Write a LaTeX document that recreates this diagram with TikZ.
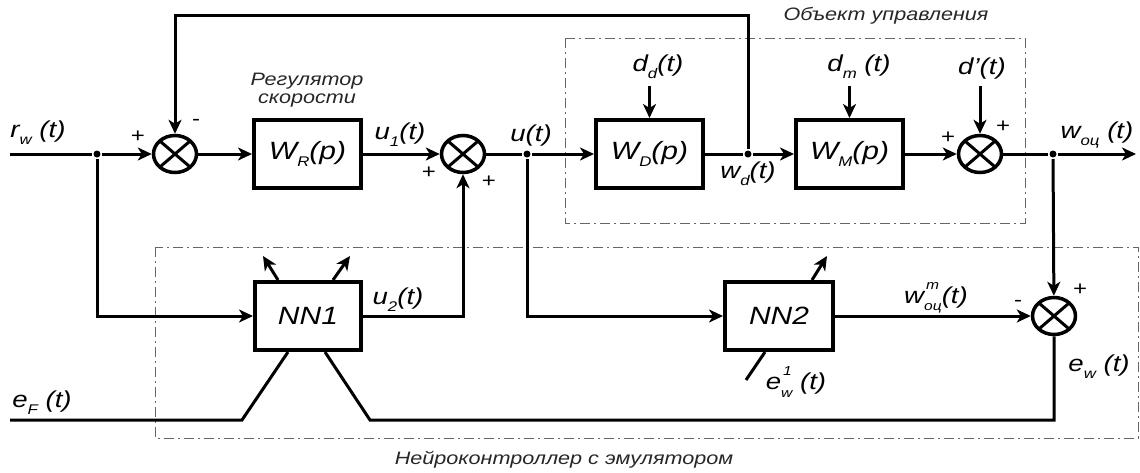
\documentclass[tikz,border=0pt]{standalone}
\usepackage{fontspec}
\setmainfont{Liberation Sans}[FakeStretch=1.2]
\usetikzlibrary{arrows.meta,shapes.geometric}
\newcommand\lsub[1]{\raisebox{-0.3em}{\fontsize{14}{14}\selectfont #1}}
\newcommand\lsupsub[2]{\rlap{\raisebox{0.6em}{\fontsize{13}{13}\selectfont\hspace{0.15em}#1}}\raisebox{-0.32em}{\fontsize{13}{13}\selectfont #2}}
\begin{document}
\begin{tikzpicture}[x=1pt,y=-1pt,
  line width=3pt,
  >={Stealth[length=14pt,width=13pt,inset=4pt]},
  blk/.style={draw,line width=4pt,minimum width=107pt,minimum height=68pt,inner sep=0pt,
              font=\fontsize{25}{27}\selectfont\itshape},
  sum/.style={ellipse,draw,line width=3.5pt,minimum width=43pt,minimum height=37pt,inner sep=0pt,
     path picture={\draw[line width=3pt]
        (path picture bounding box.north west) -- (path picture bounding box.south east)
        (path picture bounding box.north east) -- (path picture bounding box.south west);}},
  lab/.style={inner sep=0pt,font=\fontsize{23}{25}\selectfont\itshape},
  sgn/.style={inner sep=0pt,font=\fontsize{20}{22}\selectfont},
  desc/.style={inner sep=0pt,font=\fontsize{18}{20}\selectfont\itshape,text=black!85},
  dashbox/.style={draw=black!60,line width=1pt,dash pattern=on 10pt off 4pt on 2pt off 4pt},
  dot/.style={circle,fill,inner sep=0pt,minimum size=7pt}
]
\useasboundingbox (0,0) rectangle (1140,472);

% dashed frames
\draw[dashbox] (565,38) rectangle (1025,223);
\draw[dashbox] (155,247) rectangle (1138,438);

% main chain
\coordinate (in) at (10,154);
\node[dot] (j1) at (97,154) {};
\node[sum] (s1) at (175,154) {};
\node[blk] (WR) at (307.5,154) {W\lsub{R}(p)};
\node[sum] (s2) at (463,154) {};
\node[dot] (ju) at (527,154) {};
\node[blk] (WD) at (649.5,154) {W\lsub{D}(p)};
\node[dot] (jd) at (748,154) {};
\node[blk] (WM) at (849.5,154) {W\lsub{M}(p)};
\node[sum] (s3) at (980,154) {};
\node[dot] (jo) at (1053,154) {};
\coordinate (out) at (1136,154);

% lower chain
\node[blk,minimum width=106pt] (NN1) at (308,316) {NN1};
\node[blk,minimum width=108pt] (NN2) at (779,316) {NN2};
\node[sum] (s4) at (1054,316) {};

% disturbances
\coordinate (dd) at (649.5,86);
\coordinate (dm) at (849.5,86);
\coordinate (dp) at (980,86);
\coordinate (eF) at (10,420);

% connectors main
\draw (in) -- (j1);
\draw[->] (j1) -- (s1);
\draw[->] (s1) -- (WR);
\draw[->] (WR) -- (s2);
\draw (s2) -- (ju);
\draw[->] (ju) -- (WD);
\draw (WD) -- (jd);
\draw[->] (jd) -- (WM);
\draw[->] (WM) -- (s3);
\draw (s3) -- (jo);
\draw[->] (jo) -- (out);
\draw[->] (jd) -- ++(0,-139) -| (s1);
\draw[->] (dd) -- (WD);
\draw[->] (dm) -- (WM);
\draw[->] (dp) -- (s3);

% connectors lower
\draw[->] (j1) |- (NN1.west);
\draw[->] (NN1.east) -| (s2.south);
\draw[->] (ju) |- (NN2.west);
\draw[->] (NN2) -- (s4);
\draw[->] (jo) -- (s4);
\draw (s4.south) |- (370,420) -- ([xshift=17pt]NN1.south);
\draw (eF) -- (242,420) -- ([xshift=-20pt]NN1.south);
\draw[->] ([xshift=-30pt]NN1.north) -- ++(-15,-24);
\draw[->] ([xshift=25pt]NN1.north) -- ++(17,-24);
\draw[->] ([xshift=33pt]NN2.north) -- ++(15,-24);
\draw ([xshift=-14pt]NN2.south) -- ++(-19,28);

% labels
\node[lab] (lrw) at (38,133) {r\lsub{w} (t)};
\node[sgn] (p1) at (138,137) {+};
\node[sgn] (m1) at (196,122) {-};
\node[desc] (reg1) at (307,81) {Регулятор};
\node[desc] (reg2) at (307,101) {скорости};
\node[lab] (lu1) at (400,135) {u\lsub{1}(t)};
\node[sgn] (p2) at (429,173) {+};
\node[sgn] (p3) at (489,182) {+};
\node[lab] (lu) at (531,136) {u(t)};
\node[lab] (ldd) at (658,67) {d\lsub{d}(t)};
\node[lab] (lwd) at (748,174) {w\lsub{d}(t)};
\node[lab] (ldm) at (859,67) {d\lsub{m} (t)};
\node[lab] (ldp) at (982,69) {d'(t)};
\node[sgn] (p4) at (948,138) {+};
\node[sgn] (p5) at (1003,127) {+};
\node[lab] (lwo) at (1097,135) {w\lsub{оц} (t)};
\node[desc] (obj) at (886,16) {Объект управления};
\node[lab] (lu2) at (398,300) {u\lsub{2}(t)};
\node[lab] (leF) at (42,403) {e\lsub{F} (t)};
\node[lab] (lwm) at (936,298) {w\lsupsub{m}{оц}(t)};
\node[sgn] (m4) at (1018,303) {-};
\node[sgn] (p6) at (1080,290) {+};
\node[lab] (lew1) at (796,382) {e\lsupsub{1}{w} (t)};
\node[lab] (lew) at (1099,367) {e\lsub{w} (t)};
\node[desc] (neuro) at (564,460) {Нейроконтроллер с эмулятором};
\end{tikzpicture}
\end{document}
